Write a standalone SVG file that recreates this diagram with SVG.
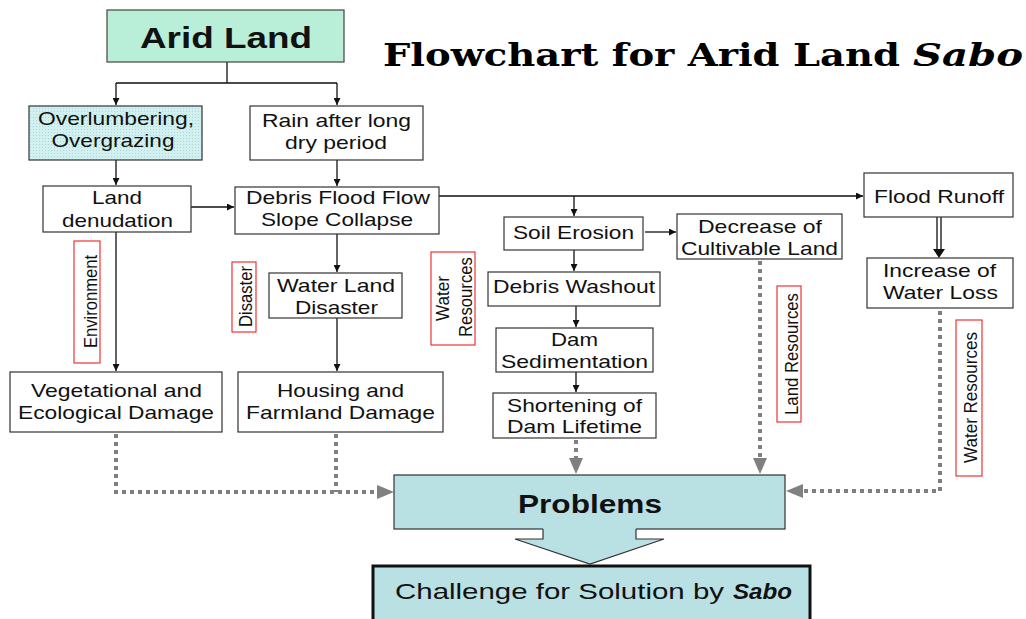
<svg xmlns="http://www.w3.org/2000/svg" width="1026" height="619" viewBox="0 0 1026 619">
<style>
.box{fill:#fff;stroke:#333;stroke-width:1.2}
.lbl{fill:#fff;stroke:#ee3333;stroke-width:1.2}
.t{font-family:"Liberation Sans",Arial,sans-serif;font-size:19px;fill:#111;text-anchor:middle}
.tv{font-family:"Liberation Sans",Arial,sans-serif;font-size:18px;fill:#111;text-anchor:middle}
.ln{fill:none;stroke:#111;stroke-width:1.3}
.dot{fill:none;stroke:#808080;stroke-width:4;stroke-dasharray:4 4}
.gh{fill:#808080}
</style>
<defs>
<marker id="ah" viewBox="0 0 10 10" refX="10" refY="5" markerWidth="7" markerHeight="7" markerUnits="userSpaceOnUse" orient="auto">
<path d="M0,0 L10,5 L0,10 Z" fill="#111"/>
</marker>
<pattern id="dots" width="3" height="3" patternUnits="userSpaceOnUse">
<rect width="3" height="3" fill="#d2f0f0"/>
<rect width="1" height="1" fill="#a8dada"/>
</pattern>
</defs>

<text x="383" y="66" font-family="'DejaVu Serif','Liberation Serif',serif" font-weight="bold" font-size="31" textLength="517" lengthAdjust="spacingAndGlyphs" fill="#000">Flowchart for Arid Land</text>
<text x="913" y="66" font-family="'DejaVu Serif','Liberation Serif',serif" font-weight="bold" font-style="italic" font-size="31" textLength="110" lengthAdjust="spacingAndGlyphs" fill="#000">Sabo</text>

<g id="connectors">
<path class="ln" d="M227,62 V83 M116,83 H337"/>
<path class="ln" d="M116,83 V105" marker-end="url(#ah)"/>
<path class="ln" d="M337,83 V105" marker-end="url(#ah)"/>
<path class="ln" d="M116,160 V185" marker-end="url(#ah)"/>
<path class="ln" d="M337,160 V186" marker-end="url(#ah)"/>
<path class="ln" d="M191,207 H234" marker-end="url(#ah)"/>
<path class="ln" d="M439,196 H863" marker-end="url(#ah)"/>
<path class="ln" d="M574,196 V216" marker-end="url(#ah)"/>
<path class="ln" d="M645,232 H676" marker-end="url(#ah)"/>
<path class="ln" d="M574,250 V271" marker-end="url(#ah)"/>
<path class="ln" d="M576,306 V327" marker-end="url(#ah)"/>
<path class="ln" d="M576,372 V392" marker-end="url(#ah)"/>
<path class="ln" d="M116,232 V371" marker-end="url(#ah)"/>
<path class="ln" d="M337,234 V272" marker-end="url(#ah)"/>
<path class="ln" d="M337,318 V371" marker-end="url(#ah)"/>
<path class="ln" d="M937,217 V250 M941,217 V250"/>
<path d="M933,249 L945,249 L939,258 Z" fill="#111"/>
<path class="dot" d="M116,434 V492 H378 M336,434 V492"/>
<path class="gh" d="M377,485 L394,492 L377,499 Z"/>
<path class="dot" d="M576,440 V458"/>
<path class="gh" d="M569,458 L583,458 L576,474 Z"/>
<path class="dot" d="M760,261 V458"/>
<path class="gh" d="M753,458 L767,458 L760,474 Z"/>
<path class="dot" d="M940,311 V491 H803"/>
<path class="gh" d="M803,484 L786,491 L803,498 Z"/>
</g>

<g id="arid-land">
<rect x="107" y="10" width="237" height="52" fill="#b9efd8" stroke="#444" stroke-width="1.2"/>
<text x="226" y="48" font-family="'Liberation Sans',Arial,sans-serif" font-weight="bold" font-size="30" text-anchor="middle" textLength="172" lengthAdjust="spacingAndGlyphs" fill="#111">Arid Land</text>
</g>
<g id="overlumbering">
<rect x="29" y="106" width="173" height="54" fill="url(#dots)" stroke="#333" stroke-width="1.2"/>
<text class="t" x="116" y="125" textLength="156" lengthAdjust="spacingAndGlyphs">Overlumbering,</text>
<text class="t" x="113" y="147" textLength="123" lengthAdjust="spacingAndGlyphs">Overgrazing</text>
</g>
<g id="rain">
<rect class="box" x="250" y="106" width="173" height="54"/>
<text class="t" x="336.5" y="127" textLength="149" lengthAdjust="spacingAndGlyphs">Rain after long</text>
<text class="t" x="336" y="149" textLength="102" lengthAdjust="spacingAndGlyphs">dry period</text>
</g>
<g id="land-denudation">
<rect class="box" x="43" y="186" width="148" height="46"/>
<text class="t" x="117" y="204" textLength="50" lengthAdjust="spacingAndGlyphs">Land</text>
<text class="t" x="117.5" y="227" textLength="111" lengthAdjust="spacingAndGlyphs">denudation</text>
</g>
<g id="debris-flood">
<rect class="box" x="235" y="187" width="204" height="47"/>
<text class="t" x="338" y="204" textLength="184" lengthAdjust="spacingAndGlyphs">Debris Flood Flow</text>
<text class="t" x="337" y="226" textLength="152" lengthAdjust="spacingAndGlyphs">Slope Collapse</text>
</g>
<g id="flood-runoff">
<rect class="box" x="864" y="173" width="149" height="44"/>
<text class="t" x="939" y="203" textLength="130" lengthAdjust="spacingAndGlyphs">Flood Runoff</text>
</g>
<g id="soil-erosion">
<rect class="box" x="504" y="217" width="139" height="33"/>
<text class="t" x="573.5" y="239" textLength="121" lengthAdjust="spacingAndGlyphs">Soil Erosion</text>
</g>
<g id="decrease">
<rect class="box" x="677" y="214" width="165" height="45"/>
<text class="t" x="760" y="233" textLength="124" lengthAdjust="spacingAndGlyphs">Decrease of</text>
<text class="t" x="759.5" y="255" textLength="157" lengthAdjust="spacingAndGlyphs">Cultivable Land</text>
</g>
<g id="increase">
<rect class="box" x="867" y="258" width="146" height="50"/>
<text class="t" x="939.5" y="277" textLength="113" lengthAdjust="spacingAndGlyphs">Increase of</text>
<text class="t" x="940.5" y="299" textLength="115" lengthAdjust="spacingAndGlyphs">Water Loss</text>
</g>
<g id="debris-washout">
<rect class="box" x="488" y="272" width="172" height="34"/>
<text class="t" x="574" y="293" textLength="162" lengthAdjust="spacingAndGlyphs">Debris Washout</text>
</g>
<g id="dam-sedimentation">
<rect class="box" x="496" y="328" width="157" height="44"/>
<text class="t" x="574.5" y="346" textLength="47" lengthAdjust="spacingAndGlyphs">Dam</text>
<text class="t" x="574.5" y="368" textLength="147" lengthAdjust="spacingAndGlyphs">Sedimentation</text>
</g>
<g id="shortening">
<rect class="box" x="493" y="393" width="163" height="45"/>
<text class="t" x="574.5" y="412" textLength="135" lengthAdjust="spacingAndGlyphs">Shortening of</text>
<text class="t" x="574.5" y="433" textLength="135" lengthAdjust="spacingAndGlyphs">Dam Lifetime</text>
</g>
<g id="water-land-disaster">
<rect class="box" x="269" y="273" width="133" height="45"/>
<text class="t" x="336" y="292" textLength="118" lengthAdjust="spacingAndGlyphs">Water Land</text>
<text class="t" x="336.5" y="314" textLength="83" lengthAdjust="spacingAndGlyphs">Disaster</text>
</g>
<g id="vegetational">
<rect class="box" x="10" y="372" width="212" height="60"/>
<text class="t" x="116.5" y="397" textLength="171" lengthAdjust="spacingAndGlyphs">Vegetational and</text>
<text class="t" x="116" y="419" textLength="196" lengthAdjust="spacingAndGlyphs">Ecological Damage</text>
</g>
<g id="housing">
<rect class="box" x="238" y="372" width="205" height="60"/>
<text class="t" x="340.5" y="397" textLength="127" lengthAdjust="spacingAndGlyphs">Housing and</text>
<text class="t" x="340.5" y="419" textLength="189" lengthAdjust="spacingAndGlyphs">Farmland Damage</text>
</g>

<g id="label-environment">
<rect class="lbl" x="74" y="241" width="26" height="122"/>
<text class="tv" transform="translate(97,301.5) rotate(-90)" textLength="93" lengthAdjust="spacingAndGlyphs">Environment</text>
</g>
<g id="label-disaster">
<rect class="lbl" x="232" y="262" width="24" height="70"/>
<text class="tv" transform="translate(252,296.5) rotate(-90)" textLength="61" lengthAdjust="spacingAndGlyphs">Disaster</text>
</g>
<g id="label-water-resources-1">
<rect class="lbl" x="431" y="252" width="44" height="93"/>
<text class="tv" transform="translate(449,298.5) rotate(-90)" textLength="45" lengthAdjust="spacingAndGlyphs">Water</text>
<text class="tv" transform="translate(472,297) rotate(-90)" textLength="80" lengthAdjust="spacingAndGlyphs">Resources</text>
</g>
<g id="label-land-resources">
<rect class="lbl" x="777" y="286" width="24" height="136"/>
<text class="tv" transform="translate(798,354) rotate(-90)" textLength="122" lengthAdjust="spacingAndGlyphs">Land Resources</text>
</g>
<g id="label-water-resources-2">
<rect class="lbl" x="956" y="320" width="26" height="156"/>
<text class="tv" transform="translate(977,397.5) rotate(-90)" textLength="131" lengthAdjust="spacingAndGlyphs">Water Resources</text>
</g>

<g id="problems">
<rect x="394" y="475" width="391" height="54" fill="#b9e0e3" stroke="#333" stroke-width="1.2"/>
<text x="590" y="513" font-family="'Liberation Sans',Arial,sans-serif" font-weight="bold" font-size="26" text-anchor="middle" textLength="144" lengthAdjust="spacingAndGlyphs" fill="#111">Problems</text>
</g>
<g id="big-arrow">
<path d="M543,528 V539 H515 L590,564 L664,539 H636 V528 Z" fill="#b9e0e3"/>
<path d="M543,529 V539 H515 L590,564 L664,539 H636 V529" fill="none" stroke="#333" stroke-width="1.2"/>
</g>
<g id="challenge">
<rect x="373" y="566" width="437" height="60" fill="#b9e0e3" stroke="#111" stroke-width="3"/>
<text x="395" y="599" font-family="'Liberation Sans',Arial,sans-serif" font-size="22" textLength="329" lengthAdjust="spacingAndGlyphs" fill="#111">Challenge for Solution by</text>
<text x="733" y="599" font-family="'Liberation Sans',Arial,sans-serif" font-size="22" font-weight="bold" font-style="italic" textLength="59" lengthAdjust="spacingAndGlyphs" fill="#111">Sabo</text>
</g>
</svg>
